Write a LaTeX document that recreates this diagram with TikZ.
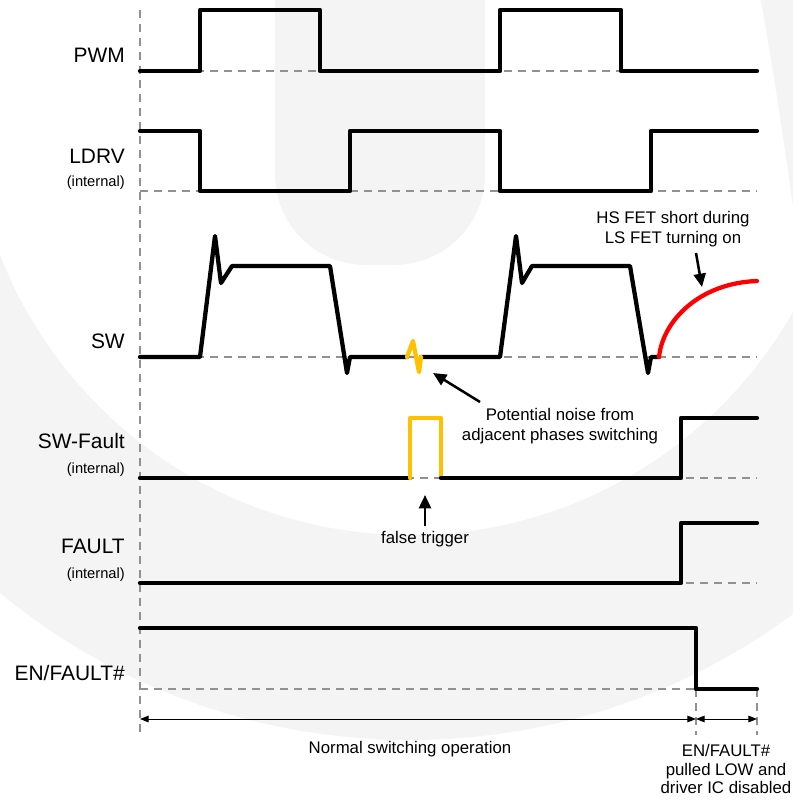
\documentclass[tikz,border=0pt]{standalone}
\usepackage{fontspec}
\setmainfont{Liberation Sans}
\usetikzlibrary{arrows.meta}
\definecolor{guide}{RGB}{145,145,145}
\definecolor{glitch}{RGB}{255,192,0}
\definecolor{short}{RGB}{255,0,0}
\definecolor{wmark}{RGB}{244,244,244}

\begin{document}
\begin{tikzpicture}[x=0.75pt, y=-0.75pt,
    trace/.style={line width=3.2pt, line join=round, line cap=round},
    base/.style={guide, line width=1.8pt, dash pattern=on 6pt off 4.5pt},
    signame/.style={anchor=east, inner sep=0pt, font=\fontsize{15.7}{18}\selectfont},
    subname/.style={anchor=east, inner sep=0pt, font=\fontsize{11}{13}\selectfont},
    note/.style={inner sep=0pt, align=center, font=\fontsize{12.6}{15.2}\selectfont},
    pointer/.style={line width=1.9pt, -{Triangle[length=10pt,width=9pt]}},
    span/.style={line width=0.75pt, {Triangle[length=6.5pt,width=5pt]}-{Triangle[length=6.5pt,width=5pt]}}]
  \useasboundingbox (0,0) rectangle (793,804);

  % faint background mark
  \begin{scope}
    \clip (0,0) rectangle (793,804);
    \fill[wmark, even odd rule] (410,95) circle (645) (410,95) circle (440);
    \fill[wmark, rounded corners=68pt] (275,-200) rectangle (485,265);
    \fill[wmark] (760,-5) .. controls (775,80) and (790,180) .. (800,260) -- (800,-5) -- cycle;
  \end{scope}

  % reference levels
  \foreach \y in {71,191,357,478,583,689}
    \draw[base] (140,\y) -- (757,\y);
  \draw[base] (140,10) -- (140,735);
  \draw[base] (696,689) -- (696,735);
  \draw[base] (757,689) -- (757,735);

  % signal names
  \node[signame] (nPWM) at (125,55) {PWM};
  \node[signame] (nLDRV) at (125,156) {LDRV};
  \node[subname] (nLDRVi) at (125,183) {(internal)};
  \node[signame] (nSW) at (125,341) {SW};
  \node[signame] (nSWF) at (125,441) {SW-Fault};
  \node[subname] (nSWFi) at (125,470) {(internal)};
  \node[signame] (nFLT) at (125,546) {FAULT};
  \node[subname] (nFLTi) at (125,575) {(internal)};
  \node[signame] (nEN) at (125,673) {EN/FAULT\#};

  % waveforms
  \draw[trace] (140,71) -- (200,71) -- (200,10) -- (320,10) -- (320,71) -- (500,71)
    -- (500,10) -- (621,10) -- (621,71) -- (757,71);
  \draw[trace] (140,131) -- (200,131) -- (200,191) -- (350,191) -- (350,131) -- (500,131)
    -- (500,191) -- (651,191) -- (651,131) -- (757,131);
  \draw[trace] (140,357) -- (200,357) -- (215,236) -- (221,283) -- (232,266) -- (330,266)
    -- (347,373) -- (350,357) -- (407,357);
  \draw[trace] (421,357) -- (500,357) -- (516,236) -- (522,283) -- (532,266) -- (630,266)
    -- (648,373) -- (651,357) -- (659,357);
  \draw[trace, glitch] (407,357) -- (413,341) -- (419,372) -- (421,357);
  \draw[trace, short] (659,357) .. controls (663,320) and (700,283) .. (757,281);
  \draw[trace] (140,478) -- (410,478);
  \draw[trace, glitch] (410,478) -- (410,418) -- (441,418) -- (441,478);
  \draw[trace] (441,478) -- (681,478) -- (681,418) -- (757,418);
  \draw[trace] (140,583) -- (681,583) -- (681,523) -- (757,523);
  \draw[trace] (140,628) -- (696,628) -- (696,689) -- (757,689);

  % annotations
  \node[note] (hsNote) at (673,229) {HS FET short during\\LS FET turning on};
  \node[note] (noiseNote) at (560,426) {Potential noise from\\adjacent phases switching};
  \node[note] (falseNote) at (425,539) {false trigger};
  \coordinate (hsTail) at (696,253);
  \coordinate (hsTip) at (702,287);
  \coordinate (noiseTail) at (480,402);
  \coordinate (noiseTip) at (433,373);
  \coordinate (falseTail) at (425,526);
  \coordinate (falseTip) at (425,495);
  \draw[pointer] (hsTail) -- (hsTip);
  \draw[pointer] (noiseTail) -- (noiseTip);
  \draw[pointer] (falseTail) -- (falseTip);

  % time spans
  \coordinate (opStart) at (140,719);
  \coordinate (opEnd) at (696,719);
  \coordinate (offEnd) at (757,719);
  \draw[span] (opStart) -- (opEnd);
  \draw[span] (opEnd) -- (offEnd);
  \node[note] (opNote) at (410,749) {Normal switching operation};
  \node[note, font=\fontsize{12.6}{14}\selectfont] (offNote) at (726,769) {EN/FAULT\#\\pulled LOW and\\driver IC disabled};
\end{tikzpicture}
\end{document}
